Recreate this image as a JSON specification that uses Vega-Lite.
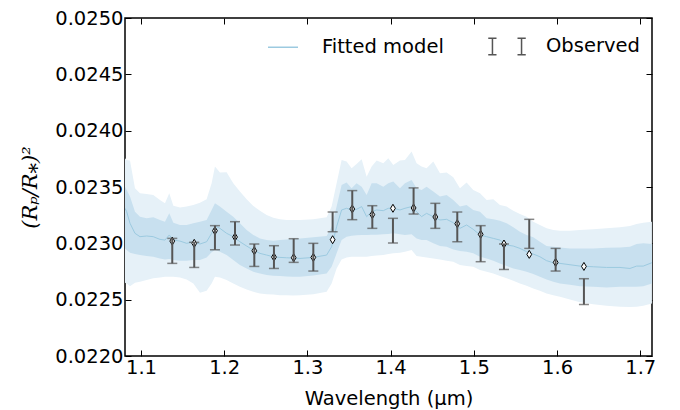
{
  "$schema": "https://vega.github.io/schema/vega-lite/v6.json",
  "width": 527,
  "height": 338,
  "autosize": "none",
  "padding": {"left": 125, "top": 18, "right": 28, "bottom": 54},
  "background": "white",
  "config": {
    "view": {"stroke": "#000", "strokeWidth": 1.5},
    "font": "DejaVu Sans",
    "axis": {
      "grid": false, "domain": false, "tickColor": "#000", "tickSize": -6, "tickWidth": 1,
      "labelFont": "DejaVu Sans", "labelFontSize": 19.5, "labelColor": "#000",
      "titleFont": "DejaVu Sans", "titleFontSize": 19.5, "titleColor": "#000", "titleFontWeight": "normal"
    }
  },
  "datasets": {
    "model": [
      {"x":1.0808,"h2":0.023755,"h1":0.023503,"m":0.023311,"l1":0.022955,"l2":0.022650},
      {"x":1.0828,"h2":0.023740,"h1":0.023474,"m":0.023281,"l1":0.022940,"l2":0.022644},
      {"x":1.0868,"h2":0.023735,"h1":0.023415,"m":0.023178,"l1":0.022917,"l2":0.022620},
      {"x":1.0928,"h2":0.023489,"h1":0.023281,"m":0.023089,"l1":0.022905,"l2":0.022650},
      {"x":1.0988,"h2":0.023444,"h1":0.023237,"m":0.023059,"l1":0.022896,"l2":0.022659},
      {"x":1.1068,"h2":0.023438,"h1":0.023222,"m":0.023065,"l1":0.022887,"l2":0.022674},
      {"x":1.1148,"h2":0.023429,"h1":0.023231,"m":0.023059,"l1":0.022881,"l2":0.022689},
      {"x":1.1228,"h2":0.023385,"h1":0.023207,"m":0.023035,"l1":0.022866,"l2":0.022697},
      {"x":1.1288,"h2":0.023355,"h1":0.023192,"m":0.023029,"l1":0.022857,"l2":0.022703},
      {"x":1.1340,"h2":0.023444,"h1":0.023266,"m":0.023074,"l1":0.022860,"l2":0.022703},
      {"x":1.1389,"h2":0.023334,"h1":0.023183,"m":0.023029,"l1":0.022852,"l2":0.022703},
      {"x":1.1469,"h2":0.023317,"h1":0.023163,"m":0.023020,"l1":0.022846,"l2":0.022697},
      {"x":1.1549,"h2":0.023326,"h1":0.023163,"m":0.023000,"l1":0.022846,"l2":0.022680},
      {"x":1.1629,"h2":0.023340,"h1":0.023178,"m":0.023014,"l1":0.022852,"l2":0.022644},
      {"x":1.1709,"h2":0.023361,"h1":0.023192,"m":0.022994,"l1":0.022852,"l2":0.022561},
      {"x":1.1789,"h2":0.023391,"h1":0.023207,"m":0.023014,"l1":0.022875,"l2":0.022579},
      {"x":1.1849,"h2":0.023533,"h1":0.023296,"m":0.023089,"l1":0.022920,"l2":0.022644},
      {"x":1.1889,"h2":0.023681,"h1":0.023355,"m":0.023154,"l1":0.022940,"l2":0.022703},
      {"x":1.1949,"h2":0.023628,"h1":0.023326,"m":0.023133,"l1":0.022926,"l2":0.022697},
      {"x":1.2029,"h2":0.023631,"h1":0.023281,"m":0.023089,"l1":0.022896,"l2":0.022674},
      {"x":1.2109,"h2":0.023533,"h1":0.023237,"m":0.023059,"l1":0.022852,"l2":0.022644},
      {"x":1.2189,"h2":0.023459,"h1":0.023178,"m":0.023014,"l1":0.022807,"l2":0.022614},
      {"x":1.2270,"h2":0.023391,"h1":0.023118,"m":0.022976,"l1":0.022777,"l2":0.022591},
      {"x":1.2350,"h2":0.023332,"h1":0.023074,"m":0.022940,"l1":0.022748,"l2":0.022570},
      {"x":1.2430,"h2":0.023290,"h1":0.023044,"m":0.022911,"l1":0.022733,"l2":0.022555},
      {"x":1.2510,"h2":0.023252,"h1":0.023029,"m":0.022896,"l1":0.022718,"l2":0.022549},
      {"x":1.2590,"h2":0.023228,"h1":0.023023,"m":0.022881,"l1":0.022712,"l2":0.022546},
      {"x":1.2670,"h2":0.023213,"h1":0.023029,"m":0.022875,"l1":0.022709,"l2":0.022540},
      {"x":1.2750,"h2":0.023207,"h1":0.023035,"m":0.022872,"l1":0.022706,"l2":0.022540},
      {"x":1.2830,"h2":0.023207,"h1":0.023041,"m":0.022869,"l1":0.022703,"l2":0.022538},
      {"x":1.2911,"h2":0.023207,"h1":0.023044,"m":0.022866,"l1":0.022703,"l2":0.022540},
      {"x":1.3071,"h2":0.023213,"h1":0.023053,"m":0.022875,"l1":0.022715,"l2":0.022549},
      {"x":1.3231,"h2":0.023231,"h1":0.023065,"m":0.022896,"l1":0.022733,"l2":0.022570},
      {"x":1.3291,"h2":0.023326,"h1":0.023148,"m":0.022970,"l1":0.022792,"l2":0.022644},
      {"x":1.3351,"h2":0.023533,"h1":0.023326,"m":0.023148,"l1":0.022911,"l2":0.022777},
      {"x":1.3411,"h2":0.023740,"h1":0.023518,"m":0.023296,"l1":0.023029,"l2":0.022857},
      {"x":1.3471,"h2":0.023726,"h1":0.023539,"m":0.023311,"l1":0.023059,"l2":0.022875},
      {"x":1.3531,"h2":0.023666,"h1":0.023489,"m":0.023296,"l1":0.023068,"l2":0.022881},
      {"x":1.3591,"h2":0.023705,"h1":0.023533,"m":0.023302,"l1":0.023071,"l2":0.022881},
      {"x":1.3652,"h2":0.023746,"h1":0.023503,"m":0.023326,"l1":0.023074,"l2":0.022881},
      {"x":1.3712,"h2":0.023592,"h1":0.023429,"m":0.023237,"l1":0.023074,"l2":0.022881},
      {"x":1.3772,"h2":0.023681,"h1":0.023533,"m":0.023281,"l1":0.023077,"l2":0.022887},
      {"x":1.3832,"h2":0.023735,"h1":0.023533,"m":0.023296,"l1":0.023077,"l2":0.022893},
      {"x":1.3912,"h2":0.023711,"h1":0.023503,"m":0.023290,"l1":0.023080,"l2":0.022896},
      {"x":1.3972,"h2":0.023755,"h1":0.023533,"m":0.023311,"l1":0.023083,"l2":0.022905},
      {"x":1.4032,"h2":0.023696,"h1":0.023548,"m":0.023311,"l1":0.023089,"l2":0.022911},
      {"x":1.4112,"h2":0.023735,"h1":0.023489,"m":0.023296,"l1":0.023080,"l2":0.022917},
      {"x":1.4172,"h2":0.023740,"h1":0.023533,"m":0.023311,"l1":0.023074,"l2":0.022926},
      {"x":1.4252,"h2":0.023815,"h1":0.023563,"m":0.023326,"l1":0.023080,"l2":0.022940},
      {"x":1.4312,"h2":0.023711,"h1":0.023489,"m":0.023281,"l1":0.023044,"l2":0.022887},
      {"x":1.4372,"h2":0.023681,"h1":0.023474,"m":0.023237,"l1":0.023029,"l2":0.022881},
      {"x":1.4432,"h2":0.023666,"h1":0.023503,"m":0.023266,"l1":0.023029,"l2":0.022875},
      {"x":1.4513,"h2":0.023726,"h1":0.023459,"m":0.023237,"l1":0.023000,"l2":0.022866},
      {"x":1.4593,"h2":0.023622,"h1":0.023415,"m":0.023207,"l1":0.022976,"l2":0.022857},
      {"x":1.4673,"h2":0.023628,"h1":0.023429,"m":0.023213,"l1":0.022970,"l2":0.022846},
      {"x":1.4753,"h2":0.023586,"h1":0.023385,"m":0.023183,"l1":0.022946,"l2":0.022837},
      {"x":1.4833,"h2":0.023489,"h1":0.023326,"m":0.023133,"l1":0.022932,"l2":0.022807},
      {"x":1.4913,"h2":0.023539,"h1":0.023340,"m":0.023163,"l1":0.022926,"l2":0.022798},
      {"x":1.4993,"h2":0.023474,"h1":0.023296,"m":0.023124,"l1":0.022911,"l2":0.022792},
      {"x":1.5074,"h2":0.023444,"h1":0.023281,"m":0.023074,"l1":0.022881,"l2":0.022763},
      {"x":1.5154,"h2":0.023385,"h1":0.023222,"m":0.023059,"l1":0.022866,"l2":0.022748},
      {"x":1.5234,"h2":0.023391,"h1":0.023213,"m":0.023044,"l1":0.022846,"l2":0.022733},
      {"x":1.5314,"h2":0.023340,"h1":0.023201,"m":0.023029,"l1":0.022822,"l2":0.022709},
      {"x":1.5394,"h2":0.023326,"h1":0.023178,"m":0.022985,"l1":0.022798,"l2":0.022689},
      {"x":1.5474,"h2":0.023290,"h1":0.023142,"m":0.022976,"l1":0.022777,"l2":0.022668},
      {"x":1.5554,"h2":0.023260,"h1":0.023103,"m":0.022955,"l1":0.022763,"l2":0.022644},
      {"x":1.5634,"h2":0.023237,"h1":0.023074,"m":0.022926,"l1":0.022748,"l2":0.022623},
      {"x":1.5714,"h2":0.023192,"h1":0.023053,"m":0.022905,"l1":0.022727,"l2":0.022600},
      {"x":1.5794,"h2":0.023163,"h1":0.023014,"m":0.022881,"l1":0.022703,"l2":0.022579},
      {"x":1.5874,"h2":0.023133,"h1":0.022976,"m":0.022846,"l1":0.022680,"l2":0.022555},
      {"x":1.5955,"h2":0.023118,"h1":0.022970,"m":0.022828,"l1":0.022659,"l2":0.022540},
      {"x":1.6035,"h2":0.023112,"h1":0.022964,"m":0.022822,"l1":0.022644,"l2":0.022526},
      {"x":1.6155,"h2":0.023112,"h1":0.022955,"m":0.022810,"l1":0.022632,"l2":0.022502},
      {"x":1.6275,"h2":0.023118,"h1":0.022955,"m":0.022798,"l1":0.022620,"l2":0.022478},
      {"x":1.6435,"h2":0.023124,"h1":0.022955,"m":0.022792,"l1":0.022614,"l2":0.022460},
      {"x":1.6595,"h2":0.023133,"h1":0.022961,"m":0.022786,"l1":0.022609,"l2":0.022446},
      {"x":1.6756,"h2":0.023142,"h1":0.022964,"m":0.022786,"l1":0.022614,"l2":0.022437},
      {"x":1.6876,"h2":0.023154,"h1":0.022970,"m":0.022777,"l1":0.022614,"l2":0.022434},
      {"x":1.6956,"h2":0.023172,"h1":0.022994,"m":0.022798,"l1":0.022614,"l2":0.022437},
      {"x":1.7036,"h2":0.023183,"h1":0.023000,"m":0.022798,"l1":0.022620,"l2":0.022446},
      {"x":1.7140,"h2":0.023192,"h1":0.022994,"m":0.022828,"l1":0.022644,"l2":0.022466}
    ],
    "obs": [
      {"x":1.1376,"d":0.023020,"lo":0.022822,"hi":0.023044},
      {"x":1.1640,"d":0.023000,"lo":0.022786,"hi":0.023009},
      {"x":1.1889,"d":0.023112,"lo":0.022943,"hi":0.023157},
      {"x":1.2130,"d":0.023056,"lo":0.022985,"hi":0.023192},
      {"x":1.2362,"d":0.022934,"lo":0.022795,"hi":0.022994},
      {"x":1.2598,"d":0.022878,"lo":0.022777,"hi":0.022979},
      {"x":1.2835,"d":0.022872,"lo":0.022831,"hi":0.023041},
      {"x":1.3071,"d":0.022875,"lo":0.022754,"hi":0.023000},
      {"x":1.3303,"d":0.023032,"lo":0.023103,"hi":0.023278},
      {"x":1.3539,"d":0.023305,"lo":0.023210,"hi":0.023468},
      {"x":1.3780,"d":0.023255,"lo":0.023133,"hi":0.023334},
      {"x":1.4028,"d":0.023311,"lo":0.023003,"hi":0.023222},
      {"x":1.4276,"d":0.023314,"lo":0.023260,"hi":0.023492},
      {"x":1.4537,"d":0.023234,"lo":0.023133,"hi":0.023355},
      {"x":1.4801,"d":0.023174,"lo":0.023014,"hi":0.023278},
      {"x":1.5082,"d":0.023080,"lo":0.022837,"hi":0.023157},
      {"x":1.5362,"d":0.022994,"lo":0.022768,"hi":0.022994},
      {"x":1.5666,"d":0.022902,"lo":0.022955,"hi":0.023213},
      {"x":1.5983,"d":0.022831,"lo":0.022754,"hi":0.022955},
      {"x":1.6323,"d":0.022795,"lo":0.022457,"hi":0.022686}
    ]
  },
  "layer": [
    {
      "data": {"name": "model"},
      "mark": {"type": "area", "color": "#e6f1f8", "clip": true},
      "encoding": {
        "x": {"field": "x", "type": "quantitative",
          "scale": {"domain": [1.0808, 1.7141], "nice": false, "zero": false},
          "axis": {"orient": "bottom", "values": [1.1, 1.2, 1.3, 1.4, 1.5, 1.6, 1.7], "format": ".1f",
            "labelPadding": 8, "title": "Wavelength (μm)", "titleX": 263.5, "titleY": 48, "titleBaseline": "alphabetic", "titleAlign": "center"}},
        "y": {"field": "h2", "type": "quantitative",
          "scale": {"domain": [0.022, 0.025], "nice": false, "zero": false},
          "axis": {"orient": "left", "values": [0.022, 0.0225, 0.023, 0.0235, 0.024, 0.0245, 0.025], "format": ".4f",
            "labelPadding": 8, "title": "(Rₚ/R⁎)²", "titleFont": "DejaVu Serif", "titleFontStyle": "italic", "titleFontSize": 21,
            "titleX": -95, "titleY": 169, "titleBaseline": "middle", "titleAlign": "center", "titleAngle": -90}},
        "y2": {"field": "l2"}
      }
    },
    {
      "data": {"name": "model"},
      "mark": {"type": "area", "color": "#c8e0ef", "clip": true},
      "encoding": {
        "x": {"field": "x", "type": "quantitative",
          "axis": {"orient": "top", "values": [1.1, 1.2, 1.3, 1.4, 1.5, 1.6, 1.7], "labels": false, "title": null}},
        "y": {"field": "h1", "type": "quantitative",
          "axis": {"orient": "right", "values": [0.022, 0.0225, 0.023, 0.0235, 0.024, 0.0245, 0.025], "labels": false, "title": null}},
        "y2": {"field": "l1"}
      }
    },
    {
      "data": {"name": "model"},
      "mark": {"type": "line", "strokeWidth": 1, "clip": true},
      "encoding": {
        "x": {"field": "x", "type": "quantitative", "axis": null},
        "y": {"field": "m", "type": "quantitative", "axis": null},
        "color": {"datum": "Fitted model", "type": "nominal",
          "scale": {"domain": ["Fitted model", "Observed"], "range": ["#9ccae0", "#555555"]},
          "legend": {"orient": "none", "legendX": 142, "legendY": 12, "direction": "horizontal", "title": null,
            "labelFont": "DejaVu Sans", "labelFontSize": 19.5, "labelColor": "#000", "symbolSize": 900, "symbolStrokeWidth": 1.5,
            "labelOffset": 23, "columnPadding": 41, "padding": 0,
            "encode": {"symbols": {"update": {
              "shape": {"signal": "datum.value === 'Observed' ? 'M-1.25,-0.55H-0.7M-0.97,-0.55V0.55M-1.25,0.55H-0.7M0.7,-0.55H1.25M0.97,-0.55V0.55M0.7,0.55H1.25' : 'M-1,0H1'"},
              "fill": {"value": "transparent"}}}}}}
      }
    },
    {
      "data": {"name": "obs"},
      "mark": {"type": "point", "shape": "M0,-1L0.6,0L0,1L-0.6,0Z", "size": 64, "filled": true, "fill": "white", "stroke": "#000", "strokeWidth": 1, "opacity": 1},
      "encoding": {
        "x": {"field": "x", "type": "quantitative", "axis": null},
        "y": {"field": "d", "type": "quantitative", "axis": null}
      }
    },
    {
      "data": {"name": "obs"},
      "mark": {"type": "errorbar", "ticks": {"size": 10, "thickness": 1.5}, "rule": {"strokeWidth": 2}},
      "encoding": {
        "x": {"field": "x", "type": "quantitative", "axis": null},
        "y": {"field": "lo", "type": "quantitative", "axis": null},
        "y2": {"field": "hi"},
        "color": {"datum": "Observed", "type": "nominal"}
      }
    }
  ],
  "resolve": {"axis": {"x": "independent", "y": "independent"}}
}
